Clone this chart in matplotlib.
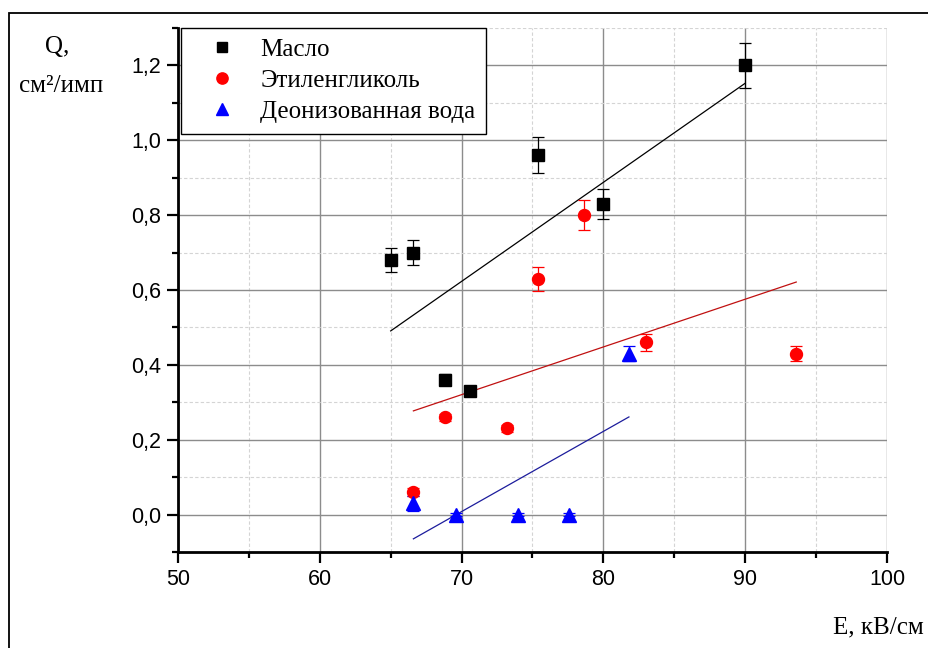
import numpy as np
import matplotlib.pyplot as plt
from matplotlib.patches import Rectangle
from matplotlib.lines import Line2D
from matplotlib.ticker import MultipleLocator, FuncFormatter

# Масло
oil_x = [65.0, 66.6, 68.8, 70.6, 75.4, 80.0, 90.0]
oil_y = [0.68, 0.70, 0.36, 0.33, 0.96, 0.83, 1.20]
oil_err = [0.033, 0.034, 0.015, 0.008, 0.048, 0.04, 0.06]

# Этиленгликоль
eg_x = [66.6, 68.8, 73.2, 75.4, 78.6, 83.0, 93.6]
eg_y = [0.06, 0.26, 0.23, 0.63, 0.80, 0.46, 0.43]
eg_err = [0.01, 0.01, 0.01, 0.032, 0.04, 0.023, 0.021]

# Деонизованная вода
w_x = [66.6, 69.6, 74.0, 77.6, 81.8]
w_y = [0.03, 0.00, 0.00, 0.00, 0.43]
w_err = [0.02, 0.005, 0.005, 0.005, 0.021]

series = [
    ('Масло', oil_x, oil_y, oil_err, 's', 'black', 'black', 8.2),
    ('Этиленгликоль', eg_x, eg_y, eg_err, 'o', '#ff0000', '#c01010', 8.6),
    ('Деонизованная вода', w_x, w_y, w_err, '^', '#0000ff', '#1c1c9c', 9.5),
]

fig = plt.figure(figsize=(9.29, 6.48), dpi=100)
ax = fig.add_axes([178 / 929, 1 - 552 / 648, 709 / 929, 524 / 648])

handles = []
for name, x, y, err, mk, col, fitcol, ms in series:
    ax.errorbar(x, y, yerr=err, fmt=mk, color=col, ecolor=col, ms=ms,
                capsize=4.3, elinewidth=0.9, capthick=0.9, zorder=4)
    # линейная аппроксимация по точкам серии
    k, b = np.polyfit(x, y, 1)
    xx = np.array([min(x), max(x)])
    ax.plot(xx, k * xx + b, color=fitcol, lw=0.9, zorder=3)
    handles.append(Line2D([], [], ls='none', marker=mk, color=col,
                          ms=ms - 0.5, label=name))

ax.set_xlim(50, 100)
ax.set_ylim(-0.1, 1.3)
ax.xaxis.set_major_locator(MultipleLocator(10))
ax.xaxis.set_minor_locator(MultipleLocator(5))
ax.yaxis.set_major_locator(MultipleLocator(0.2))
ax.yaxis.set_minor_locator(MultipleLocator(0.1))
ax.yaxis.set_major_formatter(FuncFormatter(lambda v, p: f'{v:.1f}'.replace('.', ',').replace('-0,0', '0,0')))

ax.grid(which='major', color='#8c8c8c', lw=1.0)
ax.grid(which='minor', color='#d4d4d4', lw=0.8, ls=(0, (3, 2)))
ax.set_axisbelow(True)

for s in ['top', 'right']:
    ax.spines[s].set_visible(False)
for s in ['left', 'bottom']:
    ax.spines[s].set_linewidth(2.0)

ax.tick_params(which='major', direction='out', length=8, width=1.6,
               labelsize=15.5, pad=4)
ax.tick_params(which='minor', direction='out', length=4.5, width=1.6)
for lab in ax.get_xticklabels() + ax.get_yticklabels():
    lab.set_fontfamily('Liberation Sans')

leg = ax.legend(handles=handles, loc='upper left', bbox_to_anchor=(0.004, 1.0),
                borderaxespad=0, frameon=True, fancybox=False,
                edgecolor='black', framealpha=1,
                prop={'family': 'Liberation Serif', 'size': 18},
                handletextpad=0.3, borderpad=0.42, labelspacing=0.34,
                handlelength=2.45)
leg.get_frame().set_linewidth(1.0)

fig.text(57 / 929, 1 - 47 / 648, 'Q,', ha='center', va='center',
         family='Liberation Serif', fontsize=18)
fig.text(61 / 929, 1 - 86 / 648, 'см²/имп', ha='center', va='center',
         family='Liberation Serif', fontsize=18)
fig.text(833 / 929, 1 - 627 / 648, 'E, кВ/см', ha='left', va='center',
         family='Liberation Serif', fontsize=18)

fig.patches.append(Rectangle((8.5 / 929, -0.1), 1.2, 1 - 13 / 648 + 0.1,
                             transform=fig.transFigure, fill=False,
                             edgecolor='black', lw=1.3))

fig.savefig('out.png', dpi=100)
